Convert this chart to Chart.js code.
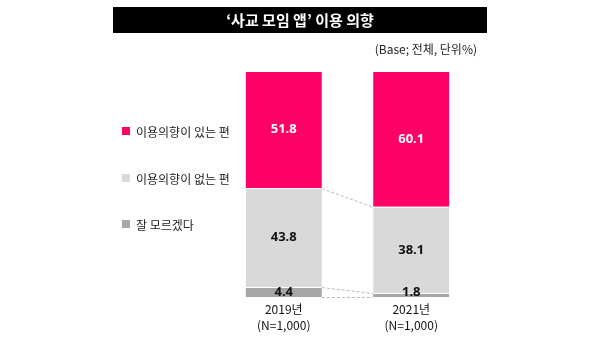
<!DOCTYPE html>
<html>
<head>
<meta charset="utf-8">
<script src="https://cdn.jsdelivr.net/npm/chart.js@4"></script>
<style>
html,body{margin:0;padding:0;background:#fff;}
#wrap{width:600px;height:357px;position:relative;}
</style>
</head>
<body>
<div id="wrap"><canvas id="c" width="600" height="357"></canvas></div>
<script>
const titleText = "‘사교 모임 앱’ 이용 의향";
const subtitleText = "(Base; 전체, 단위%)";
const years = ["2019년", "2021년"];
const sampleSizes = ["(N=1,000)", "(N=1,000)"];
const seriesNames = ["잘 모르겠다", "이용의향이 없는 편", "이용의향이 있는 편"];
const dontKnow = [4.4, 1.8];
const noIntent = [43.8, 38.1];
const intent = [51.8, 60.1];
const colors = ["#A6A6A6", "#D9D9D9", "#FF0066"];
const labelColors = ["#111", "#111", "#fff"];

const KFONT = "'Noto Sans CJK KR', 'Noto Sans', sans-serif";

const deco = {
  id: 'deco',
  beforeDraw(chart) {
    const ctx = chart.ctx;
    ctx.save();
    ctx.fillStyle = '#fff';
    ctx.fillRect(0, 0, chart.width, chart.height);
    // title bar
    ctx.fillStyle = '#000';
    ctx.fillRect(113, 7, 374, 26);
    ctx.fillStyle = '#fff';
    ctx.font = "bold 15px " + KFONT;
    ctx.textAlign = 'center';
    ctx.textBaseline = 'middle';
    ctx.fillText(titleText, 300, 20);
    // subtitle
    ctx.fillStyle = '#222';
    ctx.font = "12px " + KFONT;
    ctx.textAlign = 'right';
    ctx.fillText(subtitleText, 477, 49);
    // legend (top-to-bottom: reversed series order)
    const legendY = [131, 178, 224];
    for (let i = 0; i < 3; i++) {
      const si = 2 - i;
      ctx.fillStyle = colors[si];
      ctx.fillRect(122, legendY[i] - 4, 8, 8);
      ctx.fillStyle = '#222';
      ctx.font = "12px " + KFONT;
      ctx.textAlign = 'left';
      ctx.fillText(seriesNames[si], 136, legendY[i] + 1);
    }
    ctx.restore();
  },
  afterDatasetsDraw(chart) {
    const ctx = chart.ctx;
    const y = chart.scales.y;
    const m0 = chart.getDatasetMeta(0).data;
    ctx.save();
    // dashed connectors
    ctx.strokeStyle = '#BBBBBB';
    ctx.lineWidth = 1;
    ctx.setLineDash([3, 2]);
    const cum = (idx, upto) => {
      let s = 0;
      const ds = [dontKnow, noIntent, intent];
      for (let k = 0; k < upto; k++) s += ds[k][idx];
      return s;
    };
    const b0 = m0[0], b1 = m0[1];
    const r0 = b0.x + b0.width / 2, l1 = b1.x - b1.width / 2;
    [0, 1, 2].forEach(k => {
      ctx.beginPath();
      ctx.moveTo(r0, y.getPixelForValue(cum(0, k)) + 0.5);
      ctx.lineTo(l1, y.getPixelForValue(cum(1, k)) + 0.5);
      ctx.stroke();
    });
    ctx.setLineDash([]);
    // value labels
    const ds = [dontKnow, noIntent, intent];
    for (let k = 0; k < 3; k++) {
      const meta = chart.getDatasetMeta(k).data;
      meta.forEach((bar, i) => {
        const v = ds[k][i];
        const top = y.getPixelForValue(cum(i, k + 1));
        const bot = y.getPixelForValue(cum(i, k));
        let cy = (top + bot) / 2;
        if (k === 0) cy = Math.min(cy, bot - 5);
        ctx.fillStyle = labelColors[k];
        ctx.font = "bold 13px 'Open Sans', 'Noto Sans', sans-serif";
        ctx.textAlign = 'center';
        ctx.textBaseline = 'middle';
        ctx.fillText(v.toFixed(1), bar.x, cy);
      });
    }
    // category labels
    m0.forEach((bar, i) => {
      ctx.fillStyle = '#111';
      ctx.font = "12px " + KFONT;
      ctx.textAlign = 'center';
      ctx.textBaseline = 'middle';
      ctx.fillText(years[i], bar.x, 309);
      ctx.fillText(sampleSizes[i], bar.x, 325);
    });
    ctx.restore();
  }
};

new Chart(document.getElementById('c'), {
  type: 'bar',
  data: {
    labels: years,
    datasets: [dontKnow, noIntent, intent].map((d, k) => ({
      label: seriesNames[k],
      data: d,
      backgroundColor: colors[k],
      borderColor: '#ffffff',
      borderWidth: {top: 1, bottom: 0, left: 0, right: 0},
      borderSkipped: false,
      categoryPercentage: 1,
      barPercentage: 0.598
    }))
  },
  options: {
    responsive: false,
    animation: false,
    layout: {padding: {left: 220, right: 125, top: 71, bottom: 60}},
    plugins: {legend: {display: false}, tooltip: {enabled: false}, title: {display: false}},
    scales: {
      x: {stacked: true, display: false},
      y: {stacked: true, display: false, min: 0, max: 100}
    }
  },
  plugins: [deco]
});
</script>
</body>
</html>
